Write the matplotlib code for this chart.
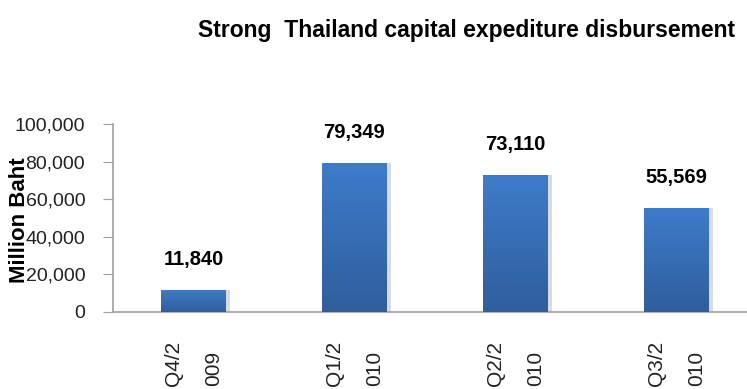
import numpy as np
import matplotlib
matplotlib.use("Agg")
import matplotlib.pyplot as plt
from matplotlib.ticker import FuncFormatter

plt.rcParams["font.family"] = ["Liberation Sans", "DejaVu Sans"]

# Data
quarters = ["Q4/2\n009", "Q1/2\n010", "Q2/2\n010", "Q3/2\n010"]
disbursement = [11840, 79349, 73110, 55569]
y_ticks = [0, 20000, 40000, 60000, 80000, 100000]

fig = plt.figure(figsize=(7.47, 3.89), dpi=100)
ax = fig.add_axes([0.1513, 0.198, 0.862, 0.483])

x = np.arange(len(quarters)) + 0.5
width = 0.4

# Shadow behind bars
ax.bar(x + 0.025, disbursement, width=width, color="#b0b0b0", alpha=0.45, zorder=1)
bars = ax.bar(x, disbursement, width=width, color="#3a70b8", zorder=2)

# Vertical gradient fill for each bar
grad = np.linspace(0, 1, 256).reshape(-1, 1)
cmap = matplotlib.colors.LinearSegmentedColormap.from_list("bar", ["#2f5e9c", "#3e7ccb"])
for b in bars:
    x0, y0 = b.get_x(), b.get_y()
    im = ax.imshow(grad, extent=[x0, x0 + b.get_width(), y0, y0 + b.get_height()],
                   origin="lower", aspect="auto", cmap=cmap, zorder=3)
    im.set_clip_path(b)

for xi, v in zip(x, disbursement):
    ax.annotate(f"{v:,}", (xi, v), xytext=(0, 22), textcoords="offset points",
                ha="center", va="center", fontsize=14.5, fontweight="bold")

ax.set_xlim(0, len(quarters))
ax.set_ylim(0, 100000)
ax.set_yticks(y_ticks)
ax.yaxis.set_major_formatter(FuncFormatter(lambda v, p: f"{int(v):,}"))
ax.tick_params(axis="y", labelsize=14, length=7, color="#a0a0a0", pad=13, labelcolor="#222222")

ax.set_xticks(x)
ax.set_xticklabels(quarters, rotation=90, fontsize=15, linespacing=2.4, color="#222222")
plt.setp(ax.get_xticklabels(), multialignment="left")
ax.tick_params(axis="x", length=0, pad=21)

for s in ["top", "right"]:
    ax.spines[s].set_visible(False)
ax.spines["left"].set_color("#a0a0a0")
ax.spines["bottom"].set_color("#a0a0a0")
ax.spines["left"].set_linewidth(1.2)
ax.spines["bottom"].set_linewidth(1.2)

ax.set_ylabel("Million Baht", fontsize=16, fontweight="bold")
ax.yaxis.set_label_coords(-0.129, 0.49)

fig.text(198 / 747, 1 - 30 / 389, "Strong  Thailand capital expediture disbursement",
         fontsize=16.5, fontweight="bold", va="center", ha="left")

fig.savefig("out.png", dpi=100)
